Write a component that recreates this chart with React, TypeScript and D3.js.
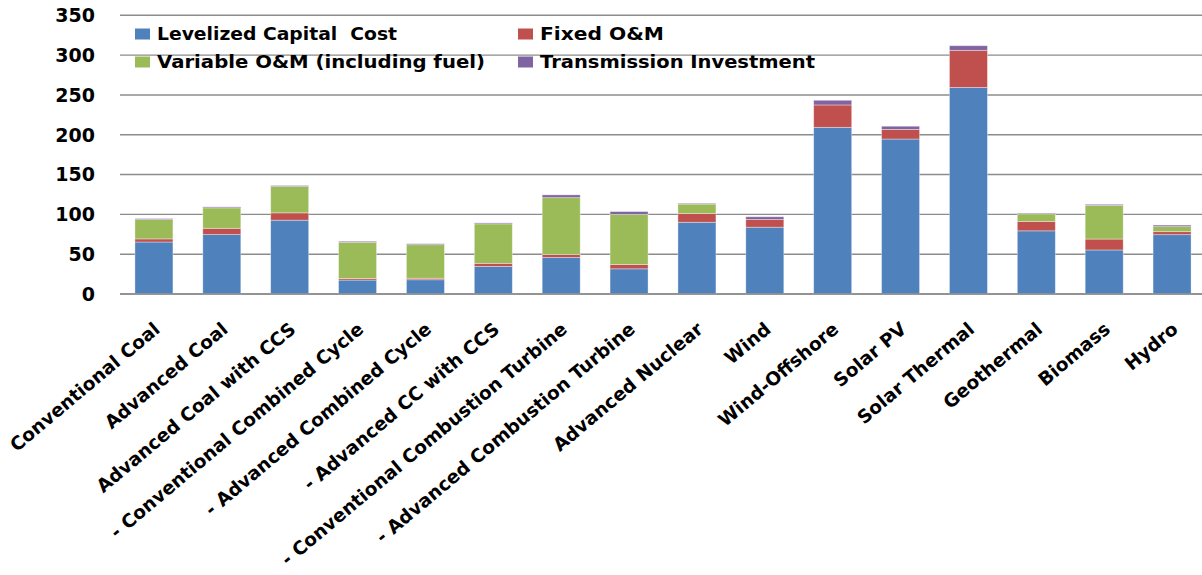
import * as React from "react";
import * as d3 from "d3";

const categories = [
  "Conventional Coal",
  "Advanced Coal",
  "Advanced Coal with CCS",
  "- Conventional Combined Cycle",
  "- Advanced Combined Cycle",
  "- Advanced CC with CCS",
  "- Conventional Combustion Turbine",
  "- Advanced Combustion Turbine",
  "Advanced Nuclear",
  "Wind",
  "Wind-Offshore",
  "Solar PV",
  "Solar Thermal",
  "Geothermal",
  "Biomass",
  "Hydro",
];

const capitalCost = [65.3, 74.6, 92.7, 17.5, 17.9, 34.6, 45.8, 31.6, 90.1, 83.9, 209.3, 194.6, 259.4, 79.3, 55.3, 74.5];
const fixedOM = [3.9, 7.9, 9.2, 1.9, 1.9, 3.9, 3.7, 5.5, 11.1, 9.6, 28.1, 12.1, 46.6, 11.9, 13.7, 3.8];
const variableOM = [24.3, 25.7, 33.1, 45.6, 42.1, 49.6, 71.5, 62.9, 11.7, 0, 0, 0, 0, 9.5, 42.3, 6.3];
const transmission = [1.2, 1.2, 1.2, 1.2, 1.2, 1.2, 3.5, 3.5, 1.0, 3.5, 5.9, 4.0, 5.8, 1.0, 1.3, 1.9];

const yTicks = [0, 50, 100, 150, 200, 250, 300, 350];

const seriesKeys = ["capital", "fixed", "variable", "transmission"];
const seriesColors: Record<string, string> = {
  capital: "#4F81BD",
  fixed: "#C0504D",
  variable: "#9BBB59",
  transmission: "#8064A2",
};

const legendItems = [
  { key: "capital", label: "Levelized Capital  Cost", x: 135, row: 0, width: 240 },
  { key: "fixed", label: "Fixed O&M", x: 518, row: 0, width: 124 },
  { key: "variable", label: "Variable O&M (including fuel)", x: 135, row: 1, width: 328 },
  { key: "transmission", label: "Transmission Investment", x: 518, row: 1, width: 275 },
];

type Row = { name: string; [key: string]: number | string };

const rows: Row[] = categories.map((name, i) => ({
  name,
  capital: capitalCost[i],
  fixed: fixedOM[i],
  variable: variableOM[i],
  transmission: transmission[i],
}));

const FONT = "'DejaVu Sans', sans-serif";

export default function App() {
  const width = 1202;
  const height = 575;
  const margin = { top: 15.3, left: 120, right: -4, bottom: 281 };
  const plotBottom = height - margin.bottom;

  const x = d3
    .scaleBand<string>()
    .domain(categories)
    .range([margin.left, width - margin.right])
    .paddingInner(0.44)
    .paddingOuter(0.22);

  const y = d3.scaleLinear().domain([0, 350]).range([plotBottom, margin.top]);

  const stacked = d3
    .stack<Row, string>()
    .keys(seriesKeys)
    .value((d, key) => d[key] as number)(rows);

  const gridColor = "#8c8c8c";

  return (
    <svg
      width={width}
      height={height}
      style={{ position: "absolute", left: 0, top: 0, background: "#fff" }}
      fontFamily={FONT}
    >
      {yTicks.map((t) => (
        <g key={t} transform={`translate(0,${y(t)})`}>
          <line x1={margin.left} x2={width} stroke={gridColor} strokeWidth={1.4} />
          <text
            x={95}
            dy="0.36em"
            textAnchor="end"
            fontSize={19}
            fontWeight="bold"
            fill="#000"
          >
            {t}
          </text>
        </g>
      ))}

      {stacked.map((layer) => (
        <g key={layer.key} fill={seriesColors[layer.key]}>
          {layer.map((d, i) =>
            d[1] - d[0] > 0 ? (
              <rect
                key={i}
                x={x(categories[i])}
                y={y(d[1])}
                width={x.bandwidth()}
                height={y(d[0]) - y(d[1])}
                stroke="rgba(255,255,255,0.45)"
                strokeWidth={0.8}
              />
            ) : null
          )}
        </g>
      ))}

      <line x1={margin.left} x2={width} y1={plotBottom} y2={plotBottom} stroke={gridColor} strokeWidth={1.4} />

      {categories.map((c) => (
        <g key={c} transform={`translate(${(x(c) ?? 0) + x.bandwidth() / 2 + 3},326) rotate(-40)`}>
          <text textAnchor="end" dy="0.36em" fontSize={18.5} fontWeight="bold" fill="#000">
            {c}
          </text>
        </g>
      ))}

      {legendItems.map((item) => {
        const top = item.row === 0 ? 28.5 : 56.5;
        return (
          <g key={item.key}>
            <rect x={item.x} y={top} width={15} height={11} fill={seriesColors[item.key]} />
            <text
              x={item.x + 22}
              y={top + 11.5}
              fontSize={17.5}
              fontWeight="bold"
              fill="#000"
              textLength={item.width}
              lengthAdjust="spacingAndGlyphs"
              style={{ whiteSpace: "pre" }}
            >
              {item.label}
            </text>
          </g>
        );
      })}
    </svg>
  );
}
